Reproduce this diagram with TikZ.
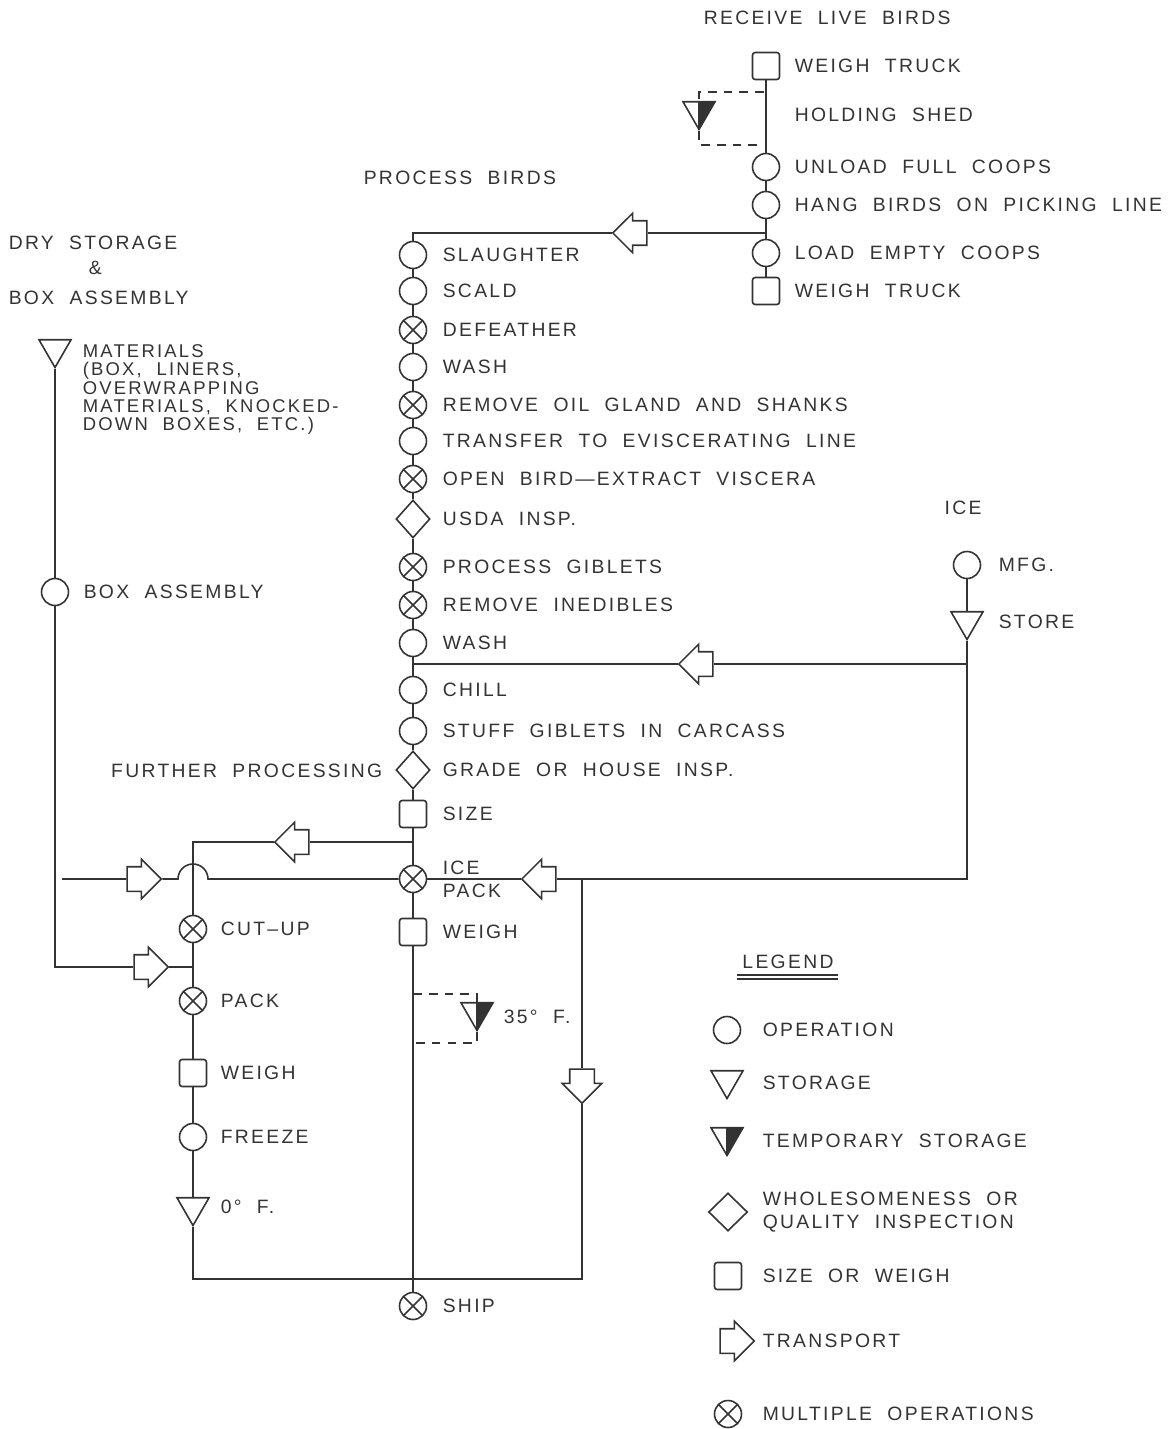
\documentclass[tikz,border=0pt]{standalone}
\usepackage{fontspec}
\newfontfamily\lettering{Liberation Sans}[LetterSpace=12, WordSpace=2.0]
\usetikzlibrary{shapes.geometric,shapes.arrows,positioning}

\newcommand{\lab}{\lettering\fontsize{11}{13}\selectfont}

\begin{document}
\begin{tikzpicture}[x=0.02cm, y=-0.02cm, line width=0.9pt, color=black!80,
  op/.style={circle, draw, fill=white, minimum size=0.54cm, inner sep=0pt},
  mop/.style={op, path picture={\draw (path picture bounding box.north west) -- (path picture bounding box.south east)
      (path picture bounding box.north east) -- (path picture bounding box.south west);}},
  sto/.style={regular polygon, regular polygon sides=3, shape border rotate=180, draw, fill=white,
      minimum size=0.74cm, inner sep=0pt},
  tsto/.style={sto, path picture={\fill[black!80] (path picture bounding box.north) rectangle (path picture bounding box.south east);
      \draw (path picture bounding box.north) -- (path picture bounding box.south);}},
  insp/.style={diamond, draw, fill=white, minimum width=0.68cm, minimum height=0.76cm, inner sep=0pt},
  wgh/.style={rectangle, draw, fill=white, minimum size=0.54cm, inner sep=0pt, rounded corners=1.5pt},
  tra/.style={single arrow, draw, fill=white, minimum height=0.68cm, inner xsep=0pt, inner ysep=0.23cm,
      single arrow head extend=0.15cm},
  trdown/.style={tra, shape border rotate=270, inner xsep=0.23cm, inner ysep=0pt},
  lbl/.style={font=\lab, inner sep=0pt, anchor=west},
  dsh/.style={dash pattern=on 5pt off 4pt}]

\useasboundingbox (0,0) rectangle (1171,1429);

% --- HEADINGS ---
\node[lbl] (hdrecv) at (703,18) {RECEIVE LIVE BIRDS};
\node[lbl] (hdproc) at (363,178) {PROCESS BIRDS};
\node[lbl] (hddry) at (8,243) {DRY STORAGE};
\node[lbl] (hdand) at (88,268) {\&};
\node[lbl] (hdbox) at (8,298) {BOX ASSEMBLY};
\node[font=\lab, inner sep=0pt] (hdice) at (963,508) {ICE};

% --- RECEIVING LINE ---
\foreach \ypos/\nm/\shp/\txt in {66/truckA/wgh/WEIGH TRUCK, 167/unload/op/UNLOAD FULL COOPS,
    205/hang/op/HANG BIRDS ON PICKING LINE, 253/loadempty/op/LOAD EMPTY COOPS, 291/truckB/wgh/WEIGH TRUCK} {
  \node[\shp] (\nm) at (766,\ypos) {};
  \node[lbl] at (794,\ypos) {\txt};
}
\node[tsto] (shed) at (699,111) {};
\node[lbl] (shedl) at (794,115) {HOLDING SHED};
\foreach \a/\b in {truckA/unload, unload/hang, hang/loadempty, loadempty/truckB}
  \draw (\a) -- (\b);
\draw[dsh] (764,92) -| (shed);
\draw[dsh] (shed) |- (764,145);

% --- PROCESSING LINE ---
\foreach \ypos/\nm/\shp/\txt in {255/slaughter/op/SLAUGHTER, 291/scald/op/SCALD, 330/defeather/mop/DEFEATHER,
    367/washA/op/WASH, 405/oilgland/mop/REMOVE OIL GLAND AND SHANKS, 441/transfer/op/TRANSFER TO EVISCERATING LINE,
    479/eviscera/mop/OPEN BIRD—EXTRACT VISCERA, 519/usda/insp/USDA INSP., 567/giblets/mop/PROCESS GIBLETS,
    605/inedibles/mop/REMOVE INEDIBLES, 643/washB/op/WASH, 690/chill/op/CHILL, 731/stuff/op/STUFF GIBLETS IN CARCASS,
    770/grade/insp/GRADE OR HOUSE INSP., 814/size/wgh/SIZE, 932/weigh/wgh/WEIGH, 1306/ship/mop/SHIP} {
  \node[\shp] (\nm) at (413,\ypos) {};
  \node[lbl] at (442,\ypos) {\txt};
}
\node[mop] (icepack) at (413,879) {};
\node[lbl] (icel) at (442,868) {ICE};
\node[lbl] (packl) at (442,891) {PACK};
\node[lbl, anchor=east] (furtherl) at (383,771) {FURTHER PROCESSING};
\foreach \a/\b in {slaughter/scald, scald/defeather, defeather/washA, washA/oilgland, oilgland/transfer,
    transfer/eviscera, eviscera/usda, usda/giblets, giblets/inedibles, inedibles/washB, washB/chill,
    chill/stuff, stuff/grade, grade/size, size/icepack, icepack/weigh, weigh/ship}
  \draw (\a) -- (\b);

% temporary storage at 35 F
\node[tsto] (cool) at (477,1012) {};
\node[lbl] (cooll) at (503,1017) {35° F.};
\draw[dsh] (413,994) -| (cool);
\draw[dsh] (cool) |- (413,1043);

% --- ICE ---
\node[op] (mfg) at (967,565) {};
\node[lbl] at (998,565) {MFG.};
\node[sto] (store) at (967,621) {};
\node[lbl] at (998,622) {STORE};
\draw (mfg) -- (store);

% --- DRY STORAGE & BOX ASSEMBLY ---
\node[sto] (materials) at (55,349) {};
\node[lbl, anchor=north west, align=left, font=\lettering\fontsize{10.5}{10.4}\selectfont] (materialsl) at (82,344)
  {MATERIALS\\(BOX, LINERS,\\OVERWRAPPING\\MATERIALS, KNOCKED-\\DOWN BOXES, ETC.)};
\node[op] (boxasm) at (55,592) {};
\node[lbl] at (83,592) {BOX ASSEMBLY};
\draw (materials) -- (boxasm);

% --- FURTHER PROCESSING LINE ---
\foreach \ypos/\nm/\shp/\txt in {929/cutup/mop/CUT–UP, 1001/packB/mop/PACK, 1073/weighB/wgh/WEIGH,
    1137/freeze/op/FREEZE, 1207/zero/sto/0° F.} {
  \node[\shp] (\nm) at (193,\ypos) {};
  \node[lbl] at (220,\ypos) {\txt};
}
\foreach \a/\b in {cutup/packB, packB/weighB, weighB/freeze, freeze/zero}
  \draw (\a) -- (\b);

% --- TRANSPORTS ---
\node[tra, shape border rotate=180] (trA) at (636,233) {};
\node[tra, shape border rotate=180] (trB) at (702,664) {};
\node[tra, shape border rotate=180] (trC) at (298,842) {};
\node[tra] (trD) at (138,879) {};
\node[tra] (trE) at (145,967) {};
\node[tra, shape border rotate=180] (trF) at (545,879) {};
\node[trdown] (trG) at (582,1080) {};

\coordinate (jA) at (766,233);
\coordinate (kA) at (413,233);
\coordinate (jB) at (967,664);
\coordinate (kB) at (413,664);
\coordinate (jC) at (413,842);
\coordinate (kC) at (193,842);
\coordinate (sD) at (62,879);
\coordinate (hump) at (178,879);
\coordinate (kE) at (55,967);
\coordinate (jE) at (193,967);
\coordinate (jF) at (582,879);
\coordinate (kI) at (967,879);
\coordinate (kG) at (582,1279);
\coordinate (kH) at (193,1279);

\draw (jA) -- (trA) -- (kA) -- (slaughter);
\draw (jB) -- (trB) -- (kB);
\draw (jC) -- (trC) -- (kC) -- (cutup);
\draw (sD) -- (trD) -- (hump) arc[start angle=180, end angle=0, radius=0.3cm] -- (icepack);
\draw (boxasm) -- (kE) -- (trE) -- (jE);
\draw (store) -- (kI) -- (jF) -- (trF) -- (icepack);
\draw (jF) -- (trG) -- (kG) -- (kH) -- (zero);

% --- LEGEND ---
\node[font=\lab, inner sep=0pt] (legend) at (788,962) {LEGEND};
\draw[line width=0.6pt] (737,975) -- (838,975) (737,979) -- (838,979);
\node[op] (lgop) at (727,1030) {};
\node[lbl] at (762,1030) {OPERATION};
\node[sto] (lgsto) at (727,1080) {};
\node[lbl] at (762,1083) {STORAGE};
\node[tsto] (lgtsto) at (727,1137) {};
\node[lbl] at (762,1141) {TEMPORARY STORAGE};
\node[insp, minimum width=0.78cm, minimum height=0.76cm] (lginsp) at (728,1212) {};
\node[lbl, align=left] at (762,1212) {WHOLESOMENESS OR\\QUALITY INSPECTION};
\node[wgh] (lgwgh) at (728,1276) {};
\node[lbl] at (762,1276) {SIZE OR WEIGH};
\node[tra] (lgtra) at (731,1341) {};
\node[lbl] at (762,1341) {TRANSPORT};
\node[mop] (lgmop) at (728,1414) {};
\node[lbl] at (762,1414) {MULTIPLE OPERATIONS};

\end{tikzpicture}
\end{document}
